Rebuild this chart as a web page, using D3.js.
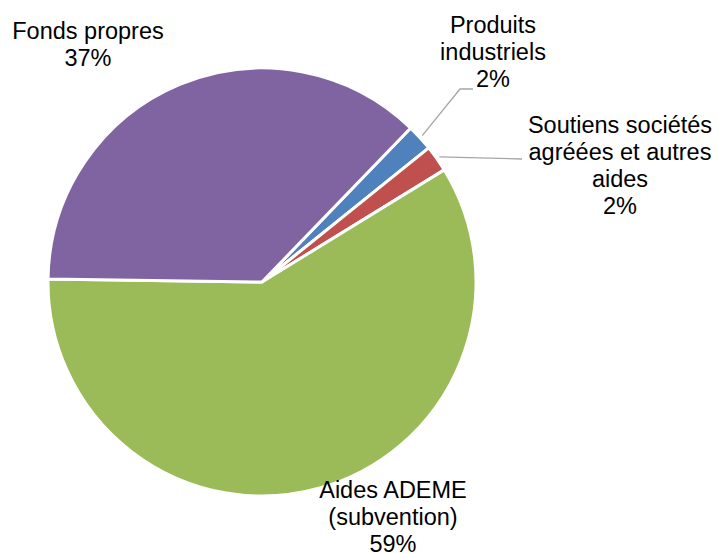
<!DOCTYPE html>
<html>
<head>
<meta charset="utf-8">
<script src="https://cdn.jsdelivr.net/npm/d3@7"></script>
<style>
  body { margin: 0; background: #fff; }
  svg text { font-family: "Liberation Sans", Arial, sans-serif; font-size: 23.5px; fill: #000; }
</style>
</head>
<body>
<svg width="718" height="553"></svg>
<script>
"use strict"

// data, in the order the pie draws them (clockwise from the start angle)
const categories = ["Produits industriels", "Soutiens sociétés agréées et autres aides", "Aides ADEME (subvention)", "Fonds propres"]
const shares = [2, 2, 59, 37]
const labelLines = [
    ["Produits", "industriels", "2%"],
    ["Soutiens sociétés", "agréées et autres", "aides", "2%"],
    ["Aides ADEME", "(subvention)", "59%"],
    ["Fonds propres", "37%"]
]
const colors = ["#4f81bd", "#c0504d", "#9bbb59", "#8064a2"]

// layout
const cx = 262, cy = 282, radius = 214
const lineHeight = 27
const labelPos = [
    {x: 493, y: 33, leader: [[460, 89], [473, 89]]},
    {x: 620, y: 133, leader: [[522, 159]]},
    {x: 393, y: 498, leader: null},
    {x: 88, y: 39, leader: null}
]

const svg = d3.select("svg")
const g = svg.append("g").attr("transform", "translate(" + cx + "," + cy + ")")

const pie = d3.pie()
    .sort(null)
    .value(d => d)
    .startAngle(44 * Math.PI / 180)
    .endAngle(44 * Math.PI / 180 + 2 * Math.PI)

const arc = d3.arc().innerRadius(0).outerRadius(radius)
const edgeArc = d3.arc().innerRadius(radius + 3).outerRadius(radius + 3)

const arcs = pie(shares)

g.selectAll("path.slice")
    .data(arcs)
    .enter()
    .append("path")
    .attr("class", "slice")
    .attr("d", arc)
    .style("fill", (d, i) => colors[i])
    .style("stroke", "#fff")
    .style("stroke-width", 3)
    .style("stroke-linejoin", "miter")

// leader lines
arcs.forEach(function(d, i) {
    const lp = labelPos[i]
    if (!lp.leader) return
    const start = edgeArc.centroid(d)
    const pts = [[start[0] + cx, start[1] + cy]].concat(lp.leader)
    svg.append("polyline")
        .attr("points", pts.map(p => p.join(",")).join(" "))
        .style("fill", "none")
        .style("stroke", "#a6a6a6")
        .style("stroke-width", 1.3)
})

// labels
labelLines.forEach(function(lines, i) {
    const lp = labelPos[i]
    const t = svg.append("text")
        .attr("text-anchor", "middle")
    lines.forEach(function(line, k) {
        t.append("tspan")
            .attr("x", lp.x)
            .attr("y", lp.y + k * lineHeight)
            .text(line)
    })
})
</script>
</body>
</html>
